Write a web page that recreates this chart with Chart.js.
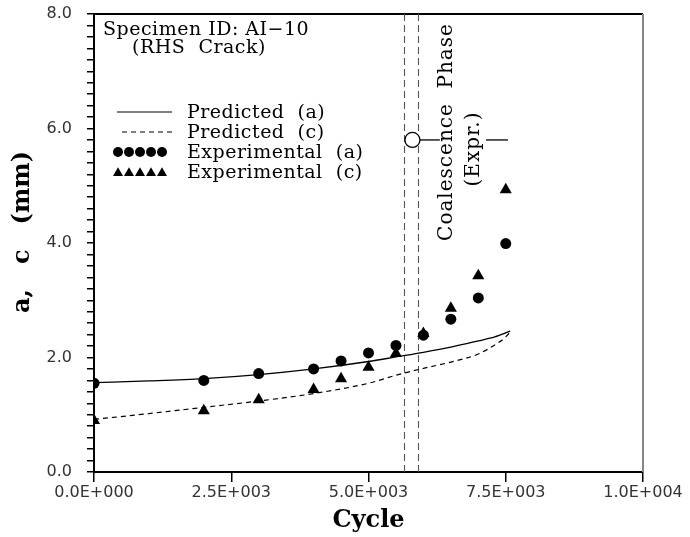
<!DOCTYPE html>
<html><head><meta charset="utf-8">
<script src="https://cdn.jsdelivr.net/npm/chart.js@4/dist/chart.umd.min.js"></script>
<style>html,body{margin:0;padding:0;background:#fff}canvas{display:block}</style>
</head><body><canvas id="c" width="690" height="537"></canvas>
<script>
// ---- data ----
const expCycles = [0, 2000, 3000, 4000, 4500, 5000, 5500, 6000, 6500, 7000, 7500];
const expA      = [1.55, 1.60, 1.72, 1.80, 1.94, 2.08, 2.21, 2.39, 2.67, 3.04, 3.99];
const expC      = [0.90, 1.07, 1.26, 1.44, 1.63, 1.83, 2.07, 2.42, 2.86, 3.43, 4.93];
const predACycles = [0, 1000, 2000, 3000, 4000, 5000, 5500, 6000, 6500, 7000, 7300, 7580];
const predA       = [1.56, 1.59, 1.63, 1.70, 1.80, 1.93, 2.01, 2.09, 2.18, 2.29, 2.36, 2.46];
const predCCycles = [0, 1000, 2000, 3000, 4000, 5000, 5500, 6000, 6500, 7000, 7300, 7500, 7580];
const predC       = [0.92, 1.02, 1.13, 1.24, 1.37, 1.55, 1.69, 1.81, 1.92, 2.06, 2.22, 2.36, 2.45];
const coalescenceBounds = [5650, 5900];
const coalescencePoint = [5800, 5.8];
const coalescenceBar = [[5800, 6300], [7140, 7540]];
const xRange = [0, 10000];
const yRange = [0, 8];
const xStep = 2500;
const yMinorStep = 0.2;
const yLabelStep = 2;
const legendLabels = ['Predicted  (a)', 'Predicted  (c)', 'Experimental  (a)', 'Experimental  (c)'];
const noteLines = ['Specimen ID: AI\u221210', '(RHS  Crack)'];
const phaseLabel = ['Coalescence  Phase', '(Expr.)'];
const xTitle = 'Cycle';
const yTitle = 'a,   c   (mm)';

const zip = (xs, ys) => xs.map((x, i) => ({x, y: ys[i]}));
const SERIF = '"DejaVu Serif", serif';
const SANS = '"DejaVu Sans", sans-serif';

function fmtE(v) {
  if (v === 0) return '0.0E+000';
  const e = Math.floor(Math.log10(Math.abs(v)) + 1e-9);
  const m = v / Math.pow(10, e);
  return m.toFixed(1) + 'E' + (e >= 0 ? '+' : '-') + String(Math.abs(e)).padStart(3, '0');
}

function drawMarker(ctx, style, x, y, r) {
  ctx.save();
  ctx.fillStyle = '#000';
  ctx.beginPath();
  if (style === 'circle') {
    ctx.arc(x, y, r, 0, Math.PI * 2);
  } else {
    const h = r * 1.5;
    const s = r * Math.sqrt(3);
    ctx.moveTo(x, y - h * 2 / 3);
    ctx.lineTo(x + s / 2, y + h / 3);
    ctx.lineTo(x - s / 2, y + h / 3);
    ctx.closePath();
  }
  ctx.fill();
  ctx.restore();
}

const decor = {
  id: 'decor',
  beforeDatasetsDraw(chart) {
    const {ctx, chartArea: a, scales: {x, y}} = chart;
    ctx.save();
    // top & right frame
    ctx.strokeStyle = '#000'; ctx.lineWidth = 2;
    ctx.beginPath(); ctx.moveTo(a.left, a.top); ctx.lineTo(a.right, a.top); ctx.stroke();
    ctx.strokeStyle = '#888'; ctx.lineWidth = 2;
    ctx.beginPath(); ctx.moveTo(a.right, a.top); ctx.lineTo(a.right, a.bottom); ctx.stroke();
    // coalescence bounds
    ctx.strokeStyle = '#555'; ctx.lineWidth = 1.1; ctx.setLineDash([7, 4]);
    coalescenceBounds.forEach(v => {
      const px = Math.round(x.getPixelForValue(v)) + 0.5;
      ctx.beginPath(); ctx.moveTo(px, a.top); ctx.lineTo(px, a.bottom); ctx.stroke();
    });
    ctx.restore();
  },
  afterDatasetsDraw(chart) {
    const {ctx, chartArea: a, scales: {x, y}} = chart;
    ctx.save();
    // coalescence marker and bar
    const cy = y.getPixelForValue(coalescencePoint[1]);
    const cx = x.getPixelForValue(coalescencePoint[0]);
    const r = 7.5;
    ctx.strokeStyle = '#000'; ctx.lineWidth = 1.3;
    coalescenceBar.forEach(([s, e], i) => {
      ctx.beginPath();
      ctx.moveTo(i === 0 ? cx + r : x.getPixelForValue(s), cy);
      ctx.lineTo(x.getPixelForValue(e), cy);
      ctx.stroke();
    });
    ctx.fillStyle = '#fff';
    ctx.beginPath(); ctx.arc(cx, cy, r, 0, Math.PI * 2); ctx.fill(); ctx.stroke();

    // rotated phase labels
    ctx.fillStyle = '#000';
    ctx.textAlign = 'center'; ctx.textBaseline = 'middle';
    ctx.font = '20px ' + SERIF;
    ctx.save(); ctx.translate(447, 132); ctx.rotate(-Math.PI / 2);
    ctx.letterSpacing = '1px';
    ctx.fillText(phaseLabel[0], 0, 0); ctx.restore();
    ctx.save(); ctx.translate(474, 149); ctx.rotate(-Math.PI / 2);
    ctx.letterSpacing = '1px';
    ctx.fillText(phaseLabel[1], 0, 0); ctx.restore();

    // specimen notes
    ctx.textAlign = 'left'; ctx.textBaseline = 'alphabetic';
    ctx.font = '19px ' + SERIF;
    ctx.letterSpacing = '0.5px';
    ctx.fillText(noteLines[0], 103, 35);
    ctx.fillText(noteLines[1], 132, 53);

    // legend
    const rows = [112, 132, 152, 172];
    legendLabels.forEach((t, i) => ctx.fillText(t, 187, rows[i] + 6));
    ctx.lineWidth = 1.2; ctx.strokeStyle = '#000';
    ctx.beginPath(); ctx.moveTo(117, rows[0]); ctx.lineTo(172, rows[0]); ctx.stroke();
    ctx.setLineDash([5, 4]);
    ctx.beginPath(); ctx.moveTo(122, rows[1]); ctx.lineTo(172, rows[1]); ctx.stroke();
    ctx.setLineDash([]);
    for (let k = 0; k < 5; k++) {
      drawMarker(ctx, 'circle', 118 + k * 11, rows[2], 5);
      drawMarker(ctx, 'triangle', 118 + k * 11, rows[3] + 1, 5.8);
    }

    // axis titles
    ctx.letterSpacing = '0px';
    ctx.font = 'bold 24px ' + SERIF;
    ctx.textAlign = 'center'; ctx.textBaseline = 'alphabetic';
    ctx.fillText(xTitle, (a.left + a.right) / 2, 527);
    ctx.save(); ctx.translate(29, 232); ctx.rotate(-Math.PI / 2);
    ctx.fillText(yTitle, 0, 0); ctx.restore();
    ctx.restore();
  }
};

new Chart(document.getElementById('c'), {
  type: 'scatter',
  data: {
    datasets: [
      {label: 'Experimental (a)', data: zip(expCycles, expA), pointStyle: 'circle', pointRadius: 5.5,
       backgroundColor: '#000', borderColor: '#000', borderWidth: 0, order: 1},
      {label: 'Experimental (c)', data: zip(expCycles, expC), pointStyle: 'triangle', pointRadius: 7,
       backgroundColor: '#000', borderColor: '#000', borderWidth: 0, order: 1},
      {label: 'Predicted (a)', data: zip(predACycles, predA), showLine: true, pointRadius: 0,
       borderColor: '#000', borderWidth: 1.3, cubicInterpolationMode: 'monotone', order: 2},
      {label: 'Predicted (c)', data: zip(predCCycles, predC), showLine: true, pointRadius: 0,
       borderColor: '#000', borderWidth: 1.2, borderDash: [5, 4], cubicInterpolationMode: 'monotone', order: 2}
    ]
  },
  options: {
    responsive: false, animation: false, devicePixelRatio: 1,
    layout: {padding: {top: 14, right: 47, left: 0, bottom: 0}},
    plugins: {legend: {display: false}, tooltip: {enabled: false}},
    scales: {
      x: {
        type: 'linear', min: xRange[0], max: xRange[1],
        afterFit: s => { s.height = 65; s.paddingLeft = 0; s.paddingRight = 0; },
        afterBuildTicks: s => { s.ticks = []; for (let v = xRange[0]; v <= xRange[1]; v += xStep) s.ticks.push({value: v}); },
        ticks: {callback: v => fmtE(v), color: '#333', font: {family: SANS, size: 16}, padding: 1, maxRotation: 0, autoSkip: false},
        grid: {drawOnChartArea: false, drawTicks: true, tickLength: 10, color: '#000', lineWidth: 1.5},
        border: {display: true, color: '#000', width: 2}
      },
      y: {
        type: 'linear', min: yRange[0], max: yRange[1],
        afterFit: s => { s.width = 94; s.paddingTop = 0; s.paddingBottom = 0; },
        afterBuildTicks: s => { s.ticks = []; const n = Math.round((yRange[1] - yRange[0]) / yMinorStep); for (let i = 0; i <= n; i++) s.ticks.push({value: +(yRange[0] + i * yMinorStep).toFixed(1)}); },
        ticks: {callback: v => (Math.abs(v / yLabelStep - Math.round(v / yLabelStep)) < 1e-6 ? v.toFixed(1) : ''),
                color: '#333', font: {family: SANS, size: 16}, padding: 15, autoSkip: false},
        grid: {drawOnChartArea: false, drawTicks: true, tickLength: 7, color: '#000', lineWidth: 1.5},
        border: {display: true, color: '#000', width: 2}
      }
    }
  },
  plugins: [decor]
});
</script>
</body></html>
